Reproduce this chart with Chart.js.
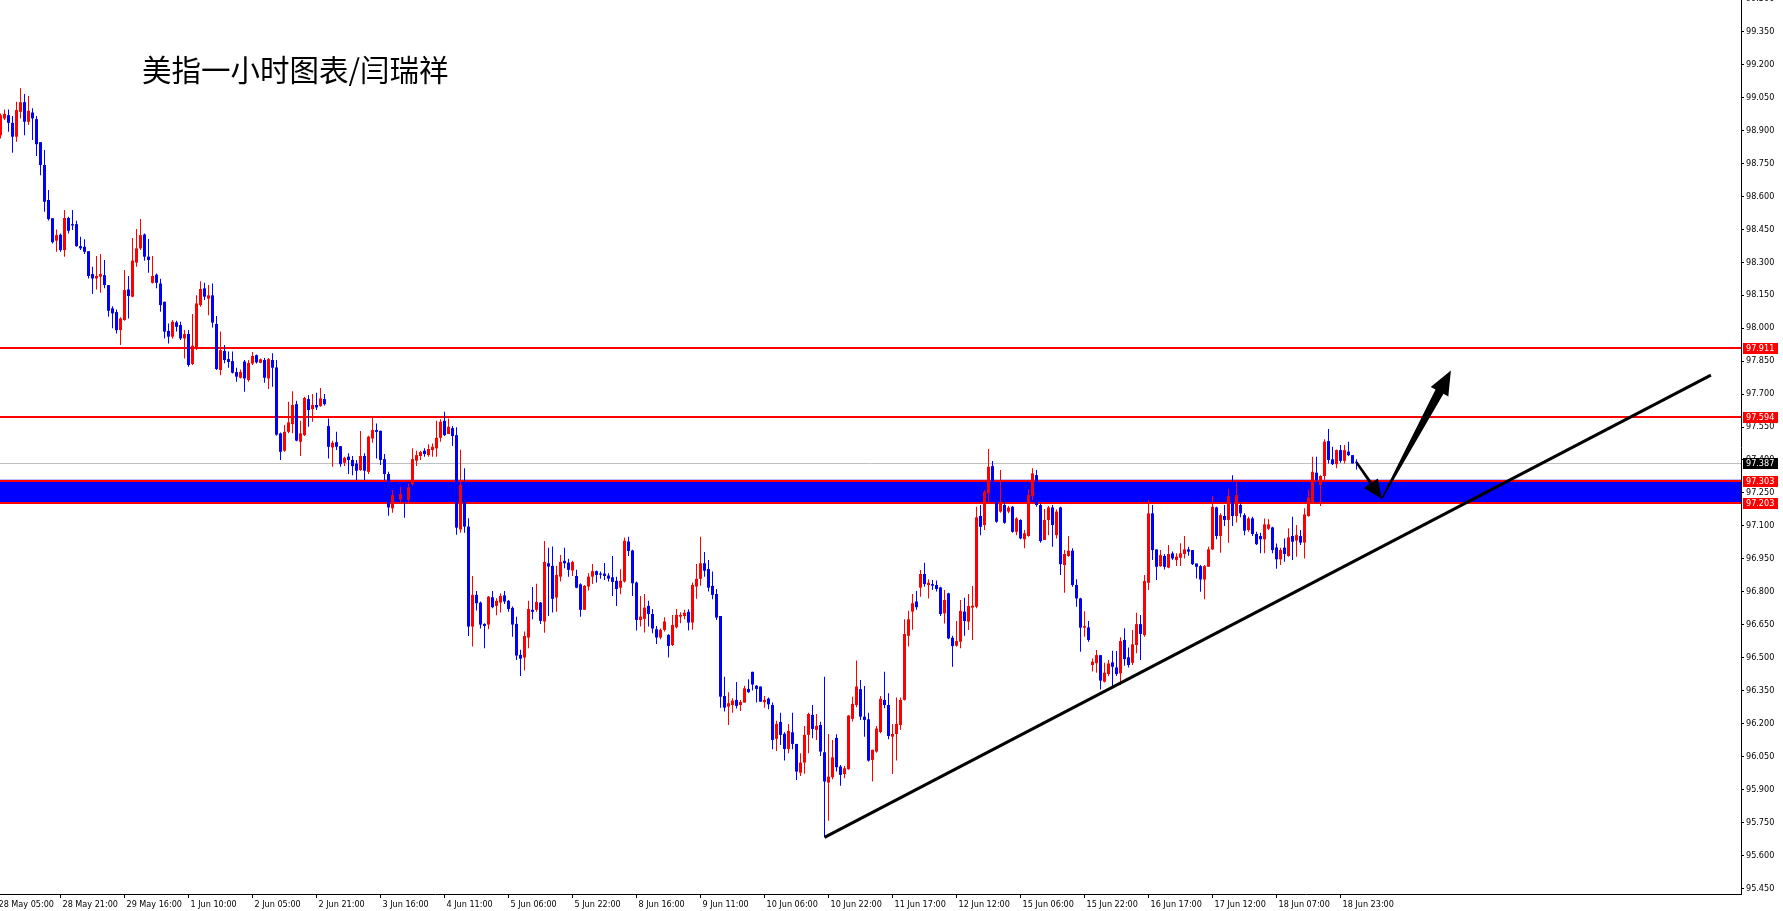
<!DOCTYPE html>
<html>
<head>
<meta charset="utf-8">
<title>美指一小时图表</title>
<script src="https://cdn.jsdelivr.net/npm/chart.js@4.4.1/dist/chart.umd.min.js"></script>
<style>
  html, body { margin: 0; padding: 0; background: #fff; }
  #wrap { position: relative; width: 1783px; height: 911px; }
</style>
</head>
<body>
<div id="wrap"><canvas id="chart"></canvas></div>
<script>
// hourly bars, index 0 = 28 May 05:00 (bar 0 sits just off the left edge)
const FIRST_BAR = 1;

const opens = [
  98.878, 98.954, 98.969, 98.934, 98.871, 98.984, 99.028, 98.939, 98.981, 98.951,
  98.846, 98.742, 98.583, 98.500, 98.398, 98.425, 98.355, 98.501, 98.473, 98.473,
  98.373, 98.370, 98.350, 98.246, 98.226, 98.234, 98.241, 98.196, 98.090, 98.073,
  97.991, 98.037, 98.176, 98.143, 98.298, 98.363, 98.426, 98.325, 98.206, 98.243,
  98.203, 98.120, 97.987, 97.961, 98.026, 98.014, 97.953, 97.973, 97.837, 97.908,
  98.105, 98.181, 98.134, 98.149, 98.019, 97.809, 97.896, 97.859, 97.850, 97.800,
  97.774, 97.848, 97.764, 97.839, 97.877, 97.842, 97.855, 97.771, 97.855, 97.821,
  97.521, 97.442, 97.528, 97.563, 97.654, 97.483, 97.513, 97.677, 97.632, 97.650,
  97.645, 97.677, 97.554, 97.457, 97.481, 97.463, 97.387, 97.415, 97.400, 97.384,
  97.354, 97.418, 97.346, 97.498, 97.536, 97.533, 97.404, 97.336, 97.180, 97.240,
  97.221, 97.245, 97.218, 97.290, 97.397, 97.418, 97.442, 97.422, 97.445, 97.453,
  97.501, 97.578, 97.518, 97.545, 97.513, 97.084, 97.286, 97.097, 96.642, 96.786,
  96.751, 96.654, 96.651, 96.775, 96.736, 96.751, 96.784, 96.759, 96.727, 96.654,
  96.513, 96.501, 96.592, 96.718, 96.718, 96.751, 96.665, 96.930, 96.918, 96.774,
  96.869, 96.941, 96.933, 96.897, 96.872, 96.834, 96.718, 96.824, 96.869, 96.894,
  96.883, 96.883, 96.874, 96.866, 96.850, 96.819, 96.847, 97.029, 96.988, 96.842,
  96.672, 96.677, 96.736, 96.699, 96.630, 96.592, 96.627, 96.604, 96.558, 96.639,
  96.687, 96.690, 96.709, 96.660, 96.824, 96.859, 96.930, 96.904, 96.827, 96.790,
  96.690, 96.326, 96.278, 96.285, 96.308, 96.285, 96.296, 96.358, 96.436, 96.373,
  96.369, 96.298, 96.314, 96.285, 96.131, 96.208, 96.154, 96.085, 96.161, 96.108,
  95.977, 96.023, 96.149, 96.240, 96.172, 96.194, 96.070, 95.932, 95.956, 96.135,
  96.005, 95.971, 95.993, 96.222, 96.285, 96.357, 96.232, 96.220, 96.035, 96.073,
  96.162, 96.308, 96.285, 96.141, 96.153, 96.194, 96.308, 96.600, 96.710, 96.756,
  96.819, 96.881, 96.831, 96.835, 96.831, 96.820, 96.702, 96.793, 96.591, 96.555,
  96.573, 96.710, 96.664, 96.728, 96.732, 97.145, 97.104, 97.248, 97.372, 97.240,
  97.165, 97.195, 97.165, 97.187, 97.073, 97.127, 97.039, 97.054, 97.236, 97.331,
  97.195, 97.036, 97.127, 97.184, 97.058, 97.184, 96.922, 96.963, 96.987, 96.831,
  96.770, 96.637, 96.638, 96.467, 96.475, 96.512, 96.391, 96.426, 96.479, 96.456,
  96.429, 96.581, 96.502, 96.477, 96.558, 96.653, 96.603, 96.841, 97.157, 96.993,
  96.917, 96.963, 96.910, 96.975, 96.945, 96.955, 96.972, 96.993, 96.990, 96.929,
  96.917, 96.856, 96.914, 96.993, 97.184, 97.054, 97.145, 97.127, 97.236, 97.145,
  97.195, 97.149, 97.081, 97.134, 97.063, 97.054, 97.039, 97.087, 97.093, 97.002,
  96.948, 97.001, 96.963, 97.054, 97.033, 97.054, 97.024, 97.145, 97.206, 97.342,
  97.286, 97.327, 97.486, 97.403, 97.381, 97.445, 97.396, 97.438, 97.422, 97.392
];

const highs = [
  98.977, 98.995, 98.995, 98.965, 99.030, 99.091, 99.065, 99.056, 99.000, 98.965,
  98.846, 98.810, 98.628, 98.500, 98.449, 98.431, 98.537, 98.507, 98.537, 98.489,
  98.416, 98.404, 98.350, 98.279, 98.328, 98.337, 98.310, 98.196, 98.100, 98.085,
  98.049, 98.264, 98.237, 98.410, 98.451, 98.496, 98.431, 98.405, 98.328, 98.249,
  98.225, 98.120, 98.021, 98.037, 98.034, 98.029, 97.991, 97.991, 98.064, 98.149,
  98.213, 98.206, 98.196, 98.203, 98.055, 97.984, 97.923, 97.893, 97.893, 97.820,
  97.812, 97.855, 97.855, 97.891, 97.880, 97.862, 97.864, 97.864, 97.886, 97.855,
  97.525, 97.559, 97.665, 97.713, 97.669, 97.578, 97.688, 97.695, 97.700, 97.706,
  97.727, 97.700, 97.589, 97.487, 97.528, 97.463, 97.415, 97.430, 97.418, 97.400,
  97.532, 97.430, 97.510, 97.600, 97.566, 97.533, 97.427, 97.346, 97.263, 97.270,
  97.278, 97.280, 97.293, 97.453, 97.442, 97.442, 97.453, 97.471, 97.475, 97.578,
  97.585, 97.619, 97.589, 97.554, 97.549, 97.446, 97.362, 97.135, 96.872, 96.804,
  96.756, 96.657, 96.781, 96.804, 96.771, 96.793, 96.804, 96.763, 96.733, 96.687,
  96.536, 96.619, 96.759, 96.822, 96.837, 96.754, 97.031, 97.001, 97.006, 96.919,
  96.968, 97.001, 96.950, 96.941, 96.900, 96.839, 96.831, 96.884, 96.927, 96.897,
  96.892, 96.931, 96.884, 96.963, 96.869, 96.903, 97.047, 97.051, 96.991, 96.847,
  96.781, 96.790, 96.759, 96.722, 96.645, 96.633, 96.684, 96.607, 96.695, 96.722,
  96.707, 96.718, 96.721, 96.842, 96.927, 97.051, 96.981, 96.945, 96.892, 96.813,
  96.690, 96.414, 96.343, 96.316, 96.390, 96.308, 96.373, 96.402, 96.436, 96.376,
  96.369, 96.326, 96.319, 96.296, 96.213, 96.250, 96.161, 96.199, 96.250, 96.108,
  96.065, 96.190, 96.250, 96.285, 96.244, 96.209, 96.414, 96.153, 96.126, 96.152,
  96.012, 96.008, 96.240, 96.323, 96.487, 96.399, 96.372, 96.250, 96.081, 96.190,
  96.326, 96.436, 96.338, 96.199, 96.319, 96.319, 96.675, 96.714, 96.790, 96.804,
  96.899, 96.932, 96.857, 96.854, 96.851, 96.823, 96.808, 96.796, 96.600, 96.667,
  96.763, 96.773, 96.790, 96.826, 97.187, 97.195, 97.263, 97.450, 97.395, 97.260,
  97.354, 97.220, 97.190, 97.190, 97.139, 97.130, 97.081, 97.266, 97.362, 97.354,
  97.202, 97.177, 97.190, 97.195, 97.175, 97.187, 96.990, 97.054, 96.998, 96.857,
  96.773, 96.712, 96.667, 96.497, 96.535, 96.512, 96.477, 96.490, 96.532, 96.531,
  96.593, 96.634, 96.547, 96.626, 96.705, 96.694, 96.876, 97.218, 97.195, 96.993,
  96.990, 96.972, 97.013, 96.983, 96.975, 97.021, 97.054, 97.005, 96.990, 96.929,
  96.922, 96.922, 97.005, 97.236, 97.187, 97.157, 97.195, 97.268, 97.331, 97.297,
  97.202, 97.157, 97.142, 97.142, 97.073, 97.069, 97.134, 97.130, 97.096, 97.020,
  97.001, 97.043, 97.089, 97.142, 97.104, 97.081, 97.180, 97.266, 97.415, 97.415,
  97.331, 97.494, 97.541, 97.460, 97.448, 97.468, 97.468, 97.483, 97.422, 97.403
];

const lows = [
  98.863, 98.947, 98.893, 98.798, 98.848, 98.954, 98.878, 98.924, 98.856, 98.783,
  98.696, 98.530, 98.490, 98.385, 98.347, 98.347, 98.325, 98.431, 98.446, 98.370,
  98.355, 98.337, 98.226, 98.155, 98.176, 98.161, 98.181, 98.052, 97.999, 97.976,
  97.923, 98.034, 98.044, 98.140, 98.279, 98.355, 98.307, 98.252, 98.203, 98.181,
  98.075, 97.953, 97.930, 97.953, 97.984, 97.946, 97.862, 97.824, 97.832, 97.900,
  98.097, 98.128, 98.059, 98.003, 97.809, 97.786, 97.840, 97.820, 97.794, 97.756,
  97.771, 97.710, 97.756, 97.832, 97.839, 97.840, 97.751, 97.723, 97.733, 97.510,
  97.400, 97.437, 97.521, 97.521, 97.485, 97.418, 97.509, 97.551, 97.574, 97.627,
  97.642, 97.648, 97.407, 97.369, 97.445, 97.369, 97.372, 97.336, 97.331, 97.309,
  97.351, 97.309, 97.336, 97.478, 97.407, 97.377, 97.306, 97.146, 97.160, 97.215,
  97.202, 97.137, 97.210, 97.283, 97.372, 97.400, 97.415, 97.415, 97.415, 97.415,
  97.483, 97.509, 97.518, 97.463, 97.060, 97.069, 97.069, 96.599, 96.551, 96.715,
  96.633, 96.543, 96.630, 96.725, 96.693, 96.706, 96.745, 96.709, 96.596, 96.490,
  96.417, 96.442, 96.543, 96.675, 96.709, 96.654, 96.614, 96.690, 96.706, 96.709,
  96.847, 96.907, 96.869, 96.872, 96.816, 96.687, 96.718, 96.806, 96.836, 96.842,
  96.859, 96.854, 96.847, 96.781, 96.736, 96.789, 96.842, 96.963, 96.781, 96.624,
  96.642, 96.615, 96.642, 96.612, 96.563, 96.584, 96.619, 96.501, 96.554, 96.633,
  96.657, 96.675, 96.624, 96.627, 96.768, 96.828, 96.869, 96.801, 96.766, 96.672,
  96.273, 96.255, 96.194, 96.250, 96.269, 96.258, 96.296, 96.341, 96.351, 96.296,
  96.300, 96.273, 96.266, 96.084, 96.076, 96.103, 96.032, 96.065, 96.084, 95.944,
  95.962, 95.972, 96.065, 96.134, 96.126, 96.053, 95.683, 95.758, 95.947, 95.982,
  95.918, 95.952, 95.990, 96.210, 96.275, 96.217, 96.141, 96.028, 95.937, 96.068,
  96.156, 96.270, 96.129, 95.971, 96.032, 96.172, 96.305, 96.551, 96.627, 96.718,
  96.778, 96.823, 96.770, 96.808, 96.801, 96.690, 96.656, 96.584, 96.459, 96.550,
  96.543, 96.600, 96.626, 96.581, 96.725, 97.058, 97.081, 97.206, 97.225, 97.114,
  97.160, 97.110, 97.157, 97.069, 97.058, 97.039, 96.998, 97.051, 97.217, 97.187,
  97.023, 97.036, 97.058, 97.005, 97.043, 96.876, 96.796, 96.960, 96.823, 96.732,
  96.527, 96.596, 96.573, 96.437, 96.432, 96.356, 96.387, 96.417, 96.371, 96.417,
  96.376, 96.464, 96.456, 96.467, 96.520, 96.490, 96.596, 96.808, 96.945, 96.854,
  96.914, 96.902, 96.907, 96.945, 96.917, 96.917, 96.952, 96.964, 96.922, 96.861,
  96.800, 96.766, 96.914, 96.990, 97.039, 96.978, 97.099, 97.023, 97.099, 97.115,
  97.139, 97.058, 97.073, 97.054, 97.013, 96.975, 96.975, 97.081, 96.975, 96.905,
  96.922, 96.937, 96.960, 96.945, 96.960, 97.013, 96.952, 97.142, 97.202, 97.206,
  97.190, 97.308, 97.384, 97.377, 97.362, 97.387, 97.384, 97.418, 97.384, 97.357
];

const closes = [
  98.969, 98.975, 98.934, 98.871, 98.992, 99.028, 98.939, 98.989, 98.954, 98.837,
  98.742, 98.575, 98.496, 98.391, 98.423, 98.355, 98.501, 98.443, 98.467, 98.373,
  98.363, 98.347, 98.237, 98.226, 98.237, 98.246, 98.196, 98.079, 98.067, 97.991,
  98.044, 98.173, 98.146, 98.307, 98.363, 98.423, 98.325, 98.310, 98.237, 98.206,
  98.105, 97.984, 97.961, 98.029, 98.006, 97.953, 97.973, 97.832, 97.920, 98.112,
  98.178, 98.143, 98.149, 98.025, 97.814, 97.900, 97.855, 97.846, 97.797, 97.779,
  97.800, 97.771, 97.841, 97.873, 97.844, 97.858, 97.774, 97.859, 97.820, 97.515,
  97.437, 97.528, 97.571, 97.650, 97.488, 97.521, 97.682, 97.627, 97.650, 97.639,
  97.680, 97.654, 97.460, 97.478, 97.460, 97.381, 97.410, 97.400, 97.372, 97.351,
  97.418, 97.351, 97.506, 97.536, 97.528, 97.400, 97.336, 97.184, 97.240, 97.225,
  97.245, 97.215, 97.275, 97.404, 97.422, 97.436, 97.427, 97.450, 97.460, 97.501,
  97.574, 97.513, 97.551, 97.509, 97.092, 97.286, 97.097, 96.642, 96.786, 96.748,
  96.651, 96.645, 96.778, 96.730, 96.759, 96.781, 96.756, 96.722, 96.651, 96.510,
  96.496, 96.599, 96.722, 96.709, 96.754, 96.668, 96.936, 96.915, 96.768, 96.877,
  96.936, 96.930, 96.900, 96.936, 96.819, 96.718, 96.827, 96.869, 96.894, 96.877,
  96.878, 96.872, 96.860, 96.845, 96.813, 96.850, 97.032, 96.986, 96.839, 96.672,
  96.687, 96.728, 96.699, 96.633, 96.592, 96.627, 96.665, 96.554, 96.649, 96.695,
  96.695, 96.705, 96.660, 96.831, 96.859, 96.930, 96.896, 96.819, 96.786, 96.683,
  96.323, 96.273, 96.293, 96.305, 96.281, 96.299, 96.361, 96.343, 96.378, 96.358,
  96.300, 96.308, 96.288, 96.126, 96.199, 96.149, 96.085, 96.167, 96.108, 95.982,
  96.023, 96.149, 96.244, 96.176, 96.190, 96.073, 95.937, 95.959, 96.047, 96.002,
  95.967, 95.997, 96.237, 96.290, 96.369, 96.232, 96.217, 96.032, 96.081, 96.178,
  96.313, 96.285, 96.144, 96.153, 96.199, 96.308, 96.608, 96.675, 96.748, 96.730,
  96.881, 96.835, 96.841, 96.828, 96.813, 96.699, 96.763, 96.588, 96.553, 96.576,
  96.713, 96.667, 96.735, 96.737, 97.139, 97.096, 97.255, 97.369, 97.240, 97.119,
  97.202, 97.114, 97.183, 97.073, 97.134, 97.043, 97.066, 97.240, 97.339, 97.195,
  97.031, 97.127, 97.184, 97.104, 97.165, 96.926, 96.972, 96.987, 96.831, 96.770,
  96.637, 96.644, 96.581, 96.482, 96.512, 96.396, 96.432, 96.474, 96.459, 96.426,
  96.576, 96.494, 96.467, 96.561, 96.653, 96.608, 96.849, 97.157, 96.990, 96.914,
  96.967, 96.914, 96.972, 96.952, 96.960, 96.975, 96.993, 96.983, 96.926, 96.914,
  96.856, 96.917, 96.993, 97.187, 97.054, 97.149, 97.127, 97.236, 97.145, 97.240,
  97.157, 97.078, 97.134, 97.063, 97.017, 97.039, 97.107, 97.107, 96.990, 96.948,
  96.990, 96.972, 97.048, 97.028, 97.058, 97.024, 97.152, 97.230, 97.346, 97.308,
  97.327, 97.483, 97.400, 97.381, 97.445, 97.396, 97.445, 97.422, 97.384, 97.387
];

const xTickBars = [0, 16, 32, 48, 64, 80, 96, 112, 128, 144, 160, 176, 192, 208, 224, 240, 256, 272, 288, 304, 320, 336];
const xTickLabels = [
  '28 May 05:00', '28 May 21:00', '29 May 16:00', '1 Jun 10:00', '2 Jun 05:00', '2 Jun 21:00',
  '3 Jun 16:00', '4 Jun 11:00', '5 Jun 06:00', '5 Jun 22:00', '8 Jun 16:00', '9 Jun 11:00',
  '10 Jun 06:00', '10 Jun 22:00', '11 Jun 17:00', '12 Jun 12:00', '15 Jun 06:00', '15 Jun 22:00',
  '16 Jun 17:00', '17 Jun 12:00', '18 Jun 07:00', '18 Jun 23:00'
];
const yTickLabels = [
  '95.450', '95.600', '95.750', '95.900', '96.050', '96.200', '96.350', '96.500', '96.650', '96.800',
  '96.950', '97.100', '97.250', '97.400', '97.550', '97.700', '97.850', '98.000', '98.150', '98.300',
  '98.450', '98.600', '98.750', '98.900', '99.050', '99.200', '99.350', '99.500'
];

const barRange = [0.875, 436.125];
const priceRange = [95.425, 99.493];

const levelLines = [97.911, 97.594, 97.303, 97.203];
const bidPrice = 97.387;
const zoneBand = [97.200, 97.310];
const trendLine = [[207, 95.683], [428.6, 97.786]];
const arrowDown = [[340.05, 97.388], [346.3, 97.223]];
const arrowUp = [[346.3, 97.223], [363.6, 97.807]];
const chartTitle = '美指一小时图表/闫瑞祥';

const UP = '#ff0000';
const DOWN = '#0000ff';
const AXIS_FONT = { family: "'DejaVu Sans Condensed', 'DejaVu Sans', sans-serif", size: 9 };

const bodies = opens.map((o, k) => ({ x: FIRST_BAR + k, y: [Math.min(o, closes[k]), Math.max(o, closes[k])] }));
const wicks = highs.map((h, k) => ({ x: FIRST_BAR + k, y: [lows[k], h] }));
const barColors = closes.map((c, k) => (c >= opens[k] ? UP : DOWN));

function drawArrow(ctx, x0, y0, x1, y1, tail, neck, headLen, headHalf) {
    const dx = x1 - x0, dy = y1 - y0;
    const len = Math.hypot(dx, dy);
    const ux = dx / len, uy = dy / len;
    const nx = -uy, ny = ux;
    const bx = x1 - ux * headLen, by = y1 - uy * headLen;
    ctx.beginPath();
    ctx.moveTo(x0 + nx * tail / 2, y0 + ny * tail / 2);
    ctx.lineTo(bx + nx * neck / 2, by + ny * neck / 2);
    ctx.lineTo(bx + nx * headHalf, by + ny * headHalf);
    ctx.lineTo(x1, y1);
    ctx.lineTo(bx - nx * headHalf, by - ny * headHalf);
    ctx.lineTo(bx - nx * neck / 2, by - ny * neck / 2);
    ctx.lineTo(x0 - nx * tail / 2, y0 - ny * tail / 2);
    ctx.closePath();
    ctx.fill();
}

// zone, bid line and horizontal levels sit behind the candles
const levelsPlugin = {
    id: 'levels',
    beforeDatasetsDraw(chart) {
        const { ctx, chartArea: a, scales: { y } } = chart;
        ctx.save();
        ctx.beginPath();
        ctx.rect(a.left, a.top, a.width, a.height);
        ctx.clip();

        const zt = y.getPixelForValue(zoneBand[1]);
        const zb = y.getPixelForValue(zoneBand[0]);
        ctx.fillStyle = '#0000ff';
        ctx.fillRect(a.left, zt, a.width, zb - zt);

        const by = Math.round(y.getPixelForValue(bidPrice)) + 0.5;
        ctx.strokeStyle = '#c0c0c0';
        ctx.lineWidth = 1;
        ctx.beginPath();
        ctx.moveTo(a.left, by);
        ctx.lineTo(a.right, by);
        ctx.stroke();

        ctx.strokeStyle = '#ff0000';
        ctx.lineWidth = 2;
        levelLines.forEach(p => {
            const py = Math.round(y.getPixelForValue(p));
            ctx.beginPath();
            ctx.moveTo(a.left, py);
            ctx.lineTo(a.right, py);
            ctx.stroke();
        });
        ctx.restore();
    },
};

const overlayPlugin = {
    id: 'overlay',
    afterDraw(chart) {
        const { ctx, chartArea: a, scales: { x, y } } = chart;
        ctx.save();

        // arrows
        ctx.fillStyle = '#000';
        const px = pt => [x.getPixelForValue(pt[0]), y.getPixelForValue(pt[1])];
        let [s, e] = arrowDown.map(px);
        drawArrow(ctx, s[0], s[1], e[0], e[1], 2.5, 3, 19, 8.5);
        [s, e] = arrowUp.map(px);
        drawArrow(ctx, s[0], s[1], e[0], e[1], 1.5, 9, 24, 10);

        // price tags on the right scale
        ctx.font = `${AXIS_FONT.size}px ${AXIS_FONT.family}`;
        ctx.textBaseline = 'middle';
        ctx.textAlign = 'left';
        const tags = levelLines.map(p => [p, '#ff0000']).concat([[bidPrice, '#000000']]);
        tags.forEach(([p, bg]) => {
            const py = Math.round(y.getPixelForValue(p));
            ctx.fillStyle = bg;
            ctx.fillRect(a.right + 2, py - 5, 35, 11);
            ctx.fillStyle = '#fff';
            ctx.fillText(p.toFixed(3), a.right + 5, py + 0.5);
        });

        // title
        ctx.fillStyle = '#000';
        ctx.font = "29.5px 'Noto Sans CJK SC', sans-serif";
        ctx.textBaseline = 'alphabetic';
        ctx.fillText(chartTitle, 142, 81);
        ctx.restore();
    },
};

new Chart(document.getElementById('chart'), {
    type: 'bar',
    data: {
        datasets: [
            {
                type: 'line',
                data: trendLine.map(([bx, p]) => ({ x: bx, y: p })),
                borderColor: '#000',
                borderWidth: 3,
                pointRadius: 0,
                order: 0,
            },
            {
                data: bodies,
                backgroundColor: barColors,
                barThickness: 3,
                minBarLength: 1,
                inflateAmount: 0,
                grouped: false,
                order: 1,
            },
            {
                data: wicks,
                backgroundColor: barColors,
                barThickness: 1,
                minBarLength: 1,
                inflateAmount: 0,
                grouped: false,
                order: 2,
            },
        ],
    },
    options: {
        animation: false,
        responsive: true,
        maintainAspectRatio: false,
        devicePixelRatio: 1,
        events: [],
        layout: { padding: 0 },
        plugins: { legend: { display: false }, tooltip: { enabled: false } },
        scales: {
            x: {
                type: 'linear',
                min: barRange[0],
                max: barRange[1],
                bounds: 'data',
                offset: false,
                grid: { offset: false, drawOnChartArea: false, drawTicks: true, tickLength: 4, color: '#000' },
                border: { display: true, color: '#000', width: 1 },
                ticks: {
                    autoSkip: false,
                    maxRotation: 0,
                    minRotation: 0,
                    align: 'start',
                    labelOffset: 2,
                    padding: 1,
                    color: '#000',
                    font: AXIS_FONT,
                    callback: (v, i) => xTickLabels[i],
                },
                afterBuildTicks: s => { s.ticks = xTickBars.map(v => ({ value: v })); },
                afterFit: s => { s.height = 17; s.paddingLeft = 0; s.paddingRight = 0; },
            },
            y: {
                type: 'linear',
                position: 'right',
                min: priceRange[0],
                max: priceRange[1],
                bounds: 'data',
                beginAtZero: false,
                grid: { drawOnChartArea: false, drawTicks: true, tickLength: 3, color: '#000' },
                border: { display: true, color: '#000', width: 1 },
                ticks: {
                    autoSkip: false,
                    padding: 2,
                    color: '#000',
                    font: AXIS_FONT,
                    callback: (v, i) => yTickLabels[i],
                },
                afterBuildTicks: s => { s.ticks = yTickLabels.map(t => ({ value: parseFloat(t) })); },
                afterFit: s => { s.width = 42; s.paddingTop = 0; s.paddingBottom = 0; },
            },
        },
    },
    plugins: [levelsPlugin, overlayPlugin],
});
</script>
</body>
</html>
